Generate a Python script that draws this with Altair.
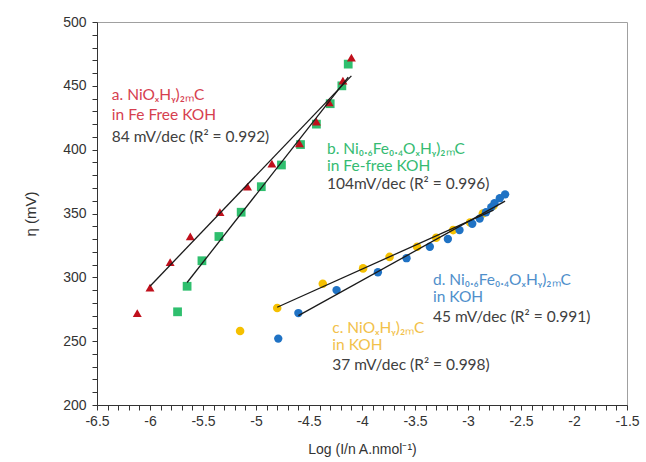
import altair as alt
import pandas as pd

# Series a: NiOxHy)2mC in Fe free KOH (red triangles)
a_x = [-6.12, -6.00, -5.81, -5.62, -5.34, -5.08, -4.85, -4.59, -4.43, -4.31, -4.18, -4.10]
a_y = [272, 292, 312, 332, 351, 371, 389, 405, 422, 437, 454, 472]
# Series b: Ni0.6Fe0.4OxHy)2mC in Fe-free KOH (green squares)
b_x = [-5.74, -5.65, -5.51, -5.35, -5.14, -4.95, -4.76, -4.58, -4.43, -4.30, -4.19, -4.13]
b_y = [273, 293, 313, 332, 351, 371, 388, 404, 420, 436, 450, 467]
# Series c: NiOxHy)2mC in KOH (yellow dots)
c_x = [-5.15, -4.80, -4.37, -3.99, -3.74, -3.48, -3.30, -3.14, -2.98, -2.86, -2.76]
c_y = [258, 276, 295, 307, 316, 324, 331, 337, 343, 350, 356]
# Series d: Ni0.6Fe0.4OxHy)2mC in KOH (blue dots)
d_x = [-4.79, -4.60, -4.24, -3.85, -3.58, -3.36, -3.19, -3.08, -2.96, -2.89, -2.83, -2.78, -2.75, -2.70, -2.65]
d_y = [252, 272, 290, 304, 315, 324, 330, 337, 342, 346, 351, 355, 358, 362, 365]

series_names = ["b", "a", "c", "d"]
series_xs = [b_x, a_x, c_x, d_x]
series_ys = [b_y, a_y, c_y, d_y]

rows = []
k = 0
for name, xs, ys in zip(series_names, series_xs, series_ys):
    for i, (xv, yv) in enumerate(zip(xs, ys)):
        rows.append({"series": name, "x": xv, "y": yv, "fit": i > 0, "ord": k})
        k += 1
df = pd.DataFrame(rows)

# Annotation texts
ann_text = [
    "a. NiOₓHᵧ)₂ₘC", "in Fe Free KOH", "84 mV/dec (R² = 0.992)",
    "b. Ni₀.₆Fe₀.₄OₓHᵧ)₂ₘC", "in Fe-free  KOH", "104mV/dec (R² = 0.996)",
    "c. NiOₓHᵧ)₂ₘC", "in KOH", "37 mV/dec (R² = 0.998)",
    "d. Ni₀.₆Fe₀.₄OₓHᵧ)₂ₘC", "in KOH", "45 mV/dec (R² = 0.991)",
]
ann_x = [-6.36, -6.36, -6.36, -4.33, -4.33, -4.33, -4.28, -4.28, -4.28, -3.33, -3.33, -3.33]
ann_y = [442.8, 427.2, 409.9, 400.5, 387.2, 373.1, 260.3, 247.0, 231.3, 297.9, 284.6, 268.9]
ann_color = ["#d6404f", "#d6404f", "#404040",
             "#35bb72", "#35bb72", "#404040",
             "#f2c14a", "#f2c14a", "#404040",
             "#4f8fcb", "#4f8fcb", "#404040"]
ann = pd.DataFrame({"x": ann_x, "y": ann_y, "text": ann_text, "color": ann_color})

x_ticks = [round(-6.5 + 0.1 * i, 1) for i in range(51)]
y_ticks = list(range(200, 501, 10))

x_major = "abs(datum.value*2 - round(datum.value*2)) < 0.001"
y_major = "datum.value % 50 == 0"

common_axis = dict(
    labelOverlap=False,
    labelBound=False,
    labelFlush=False,
    grid=False,
    labelFontSize=14,
    titleFontWeight="normal",
    labelColor="#333333",
    titleColor="#333333",
    domainColor="#333333",
    domainWidth=1,
    tickColor="#333333",
    tickWidth=1,
    labelFont="Liberation Sans",
    titleFont="Liberation Sans",
    tickSize=5,
    ticks=True,
    domain=True,
)

x_enc = alt.X(
    "x:Q",
    scale=alt.Scale(domain=[-6.5, -1.5], nice=False, zero=False),
    axis=alt.Axis(
        values=x_ticks,
        title="Log (I/n A.nmol⁻¹)",
        labelExpr=f"{x_major} ? '' + datum.value : ''",
        titleFontSize=14,
        labelPadding=4,
        titlePadding=14,
        **common_axis,
    ),
)
y_enc = alt.Y(
    "y:Q",
    scale=alt.Scale(domain=[200, 500], nice=False, zero=False),
    axis=alt.Axis(
        values=y_ticks,
        title="η (mV)",
        labelExpr=f"{y_major} ? '' + datum.value : ''",
        titleFontSize=15,
        labelPadding=6,
        titlePadding=24,
        **common_axis,
    ),
)

points = alt.Chart(df).mark_point(filled=True, opacity=1).encode(
    color=alt.Color("series:N", scale=alt.Scale(domain=["a", "b", "c", "d"],
                                                range=["#c0101c", "#2fbf6e", "#f5c000", "#1f72c4"]),
                    legend=None),
    shape=alt.Shape("series:N", scale=alt.Scale(domain=["a", "b", "c", "d"],
                                                range=["triangle-up", "square", "circle", "circle"]),
                    legend=None),
    size=alt.Size("series:N", scale=alt.Scale(domain=["a", "b", "c", "d"],
                                              range=[80, 70, 30, 75]),
                  legend=None),
    order=alt.Order("ord:Q"),
)

fits = alt.Chart(df).transform_filter("datum.fit").transform_regression(
    "x", "y", groupby=["series"]
).mark_line(color="#1a1a1a", strokeWidth=1.3).encode(
    detail="series:N"
)

labels = alt.Chart(ann).mark_text(
    align="left", baseline="middle", font="Lato", fontSize=15.5
).encode(
    text="text:N", color=alt.Color("color:N", scale=None)
)

chart = alt.layer(points, fits, labels).encode(
    x=x_enc, y=y_enc
).properties(
    width=530,
    height=383,
    padding={"left": 97, "top": 22, "right": 19, "bottom": 57},
    autosize=alt.AutoSizeParams(type="none"),
    background="white",
).configure_view(stroke="#a0a0a0", strokeWidth=1)

chart.save("out.html", embed_options={"renderer": "svg", "actions": False})
